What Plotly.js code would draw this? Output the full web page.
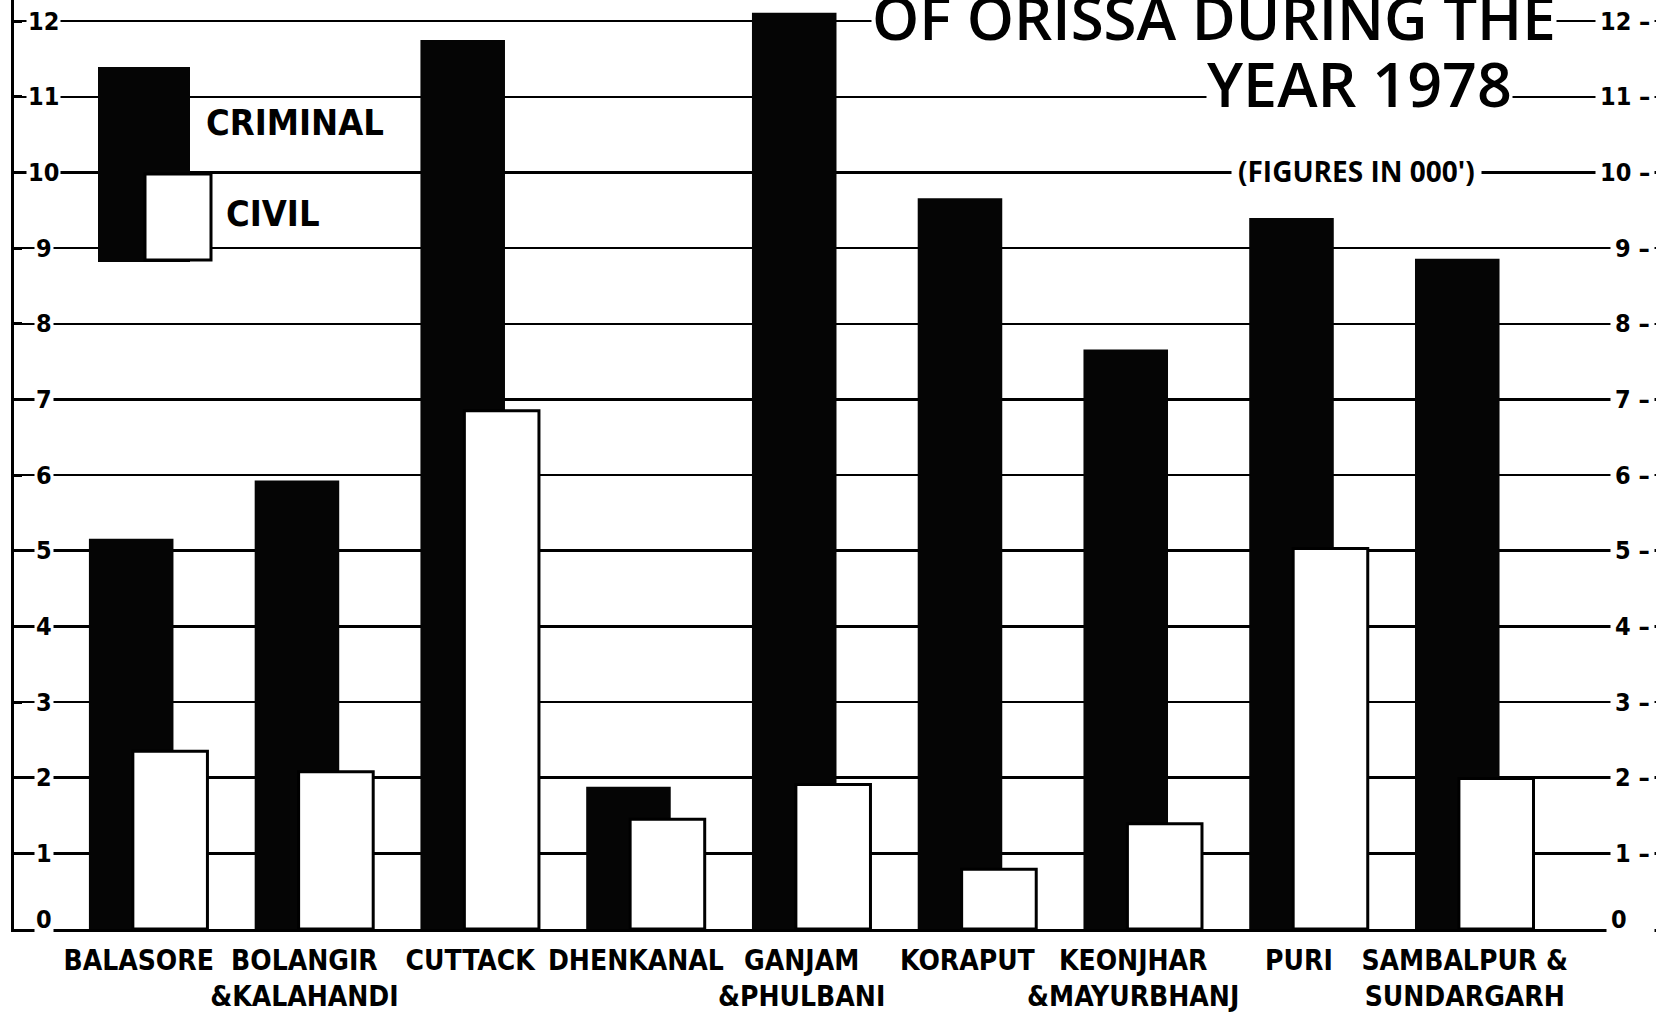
<!DOCTYPE html>
<html>
<head>
<meta charset="utf-8">
<script src="https://cdn.plot.ly/plotly-3.0.1.min.js"></script>
<style>html,body{margin:0;padding:0;background:#fff;}#chart{width:1656px;height:1020px;}</style>
</head>
<body>
<div id="chart"></div>
<script>
// Data (figures in 000')
const districts = ["BALASORE", "BOLANGIR<br>&KALAHANDI", "CUTTACK", "DHENKANAL", "GANJAM<br>&PHULBANI", "KORAPUT", "KEONJHAR<br>&MAYURBHANJ", "PURI", "SAMBALPUR &<br>SUNDARGARH"];
const criminal = [5.16, 5.93, 11.75, 1.88, 12.11, 9.66, 7.66, 9.40, 8.86];
const civil = [2.35, 2.08, 6.85, 1.45, 1.91, 0.79, 1.39, 5.03, 1.99];
const tickVals = [0,1,2,3,4,5,6,7,8,9,10,11,12];
const tickLabels = ["0","1","2","3","4","5","6","7","8","9","10","11","12"];
const titleLines = ["OF ORISSA DURING THE", "YEAR 1978", "(FIGURES IN 000')"];
const legendNames = ["CRIMINAL", "CIVIL"];

const handFont = "DejaVu Sans Condensed";
const idx = districts.map((d, i) => i);

const traces = [
  {
    type: "bar", name: legendNames[0], x: idx, y: criminal,
    offset: -0.30, width: 0.51,
    marker: {color: "#050505", line: {width: 0}},
    hoverinfo: "y"
  },
  {
    type: "bar", name: legendNames[1], x: idx, y: civil,
    offset: -0.035, width: 0.45,
    marker: {color: "#ffffff", line: {color: "#000000", width: 3}},
    hoverinfo: "y"
  }
];

const annotations = [];
// left and right axis labels
tickVals.forEach((v, i) => {
  annotations.push({
    xref: "paper", yref: "y", x: 0.018, y: v, yshift: v === 0 ? 10 : 0,
    text: tickLabels[i], showarrow: false, xanchor: "center", yanchor: "middle",
    font: {family: handFont, size: 25, color: "#000", weight: "bold"},
    bgcolor: "#ffffff", borderpad: 1
  });
  annotations.push({
    xref: "paper", yref: "y", x: 0.9995, y: v, yshift: v === 0 ? 10 : 0,
    text: tickLabels[i] + (v === 0 ? "   " : " –"), showarrow: false, xanchor: "right", yanchor: "middle",
    font: {family: handFont, size: 25, color: "#000", weight: "bold"},
    bgcolor: "#ffffff", borderpad: 4
  });
});
// title lines
annotations.push({
  xref: "paper", yref: "paper", x: (1359 - 14) / 1642, y: (929 - 84) / 929, yanchor: "middle", xanchor: "center",
  text: titleLines[1], showarrow: false,
  font: {family: "Open Sans", size: 61, color: "#000", weight: 600},
  bgcolor: "#ffffff", borderpad: 0
});
annotations.push({
  xref: "paper", yref: "paper", x: (1214 - 14) / 1642, y: 1.0, yanchor: "top", xanchor: "center",
  yshift: 25,
  text: titleLines[0], showarrow: false,
  font: {family: "Open Sans", size: 60, color: "#000", weight: 600},
  bgcolor: "#ffffff", borderpad: 0
});
annotations.push({
  xref: "paper", yref: "paper", x: (1356 - 14) / 1642, y: (929 - 171) / 929, yanchor: "middle", xanchor: "center",
  text: titleLines[2], showarrow: false,
  font: {family: "Open Sans", size: 28, color: "#000", weight: 700},
  bgcolor: "#ffffff", borderpad: 6
});
// legend text
annotations.push({
  xref: "paper", yref: "paper", x: (204 - 14) / 1642, y: (929 - 123) / 929, yanchor: "middle", xanchor: "left",
  text: legendNames[0], showarrow: false,
  font: {family: handFont, size: 36, color: "#000", weight: "bold"}
});
annotations.push({
  xref: "paper", yref: "paper", x: (224 - 14) / 1642, y: (929 - 214) / 929, yanchor: "middle", xanchor: "left",
  text: legendNames[1], showarrow: false,
  font: {family: handFont, size: 36, color: "#000", weight: "bold"}
});

const px = p => (p - 14) / 1642;
const py = p => (929 - p) / 929;
const shapes = [
  {type: "rect", xref: "paper", yref: "paper", x0: px(98), x1: px(190), y0: py(262), y1: py(67),
   fillcolor: "#050505", line: {width: 0}, layer: "above"},
  {type: "rect", xref: "paper", yref: "paper", x0: px(145), x1: px(211), y0: py(260), y1: py(174),
   fillcolor: "#ffffff", line: {color: "#000", width: 3}, layer: "above"}
];

const layout = {
  width: 1656, height: 1020,
  margin: {l: 14, r: 0, t: 0, b: 91},
  paper_bgcolor: "#ffffff", plot_bgcolor: "#ffffff",
  showlegend: false,
  barmode: "overlay",
  xaxis: {
    range: [-0.752, 9.154],
    tickvals: idx, ticktext: districts, tickangle: 0,
    ticks: "", showgrid: false, zeroline: false,
    showline: true, linecolor: "#000", linewidth: 3,
    tickfont: {family: handFont, size: 28, color: "#000", weight: "bold"},
    ticklabelstandoff: 4
  },
  yaxis: {
    range: [0, 12.28],
    tickvals: tickVals, showticklabels: false,
    ticks: "inside", ticklen: 8, tickwidth: 3, tickcolor: "#000",
    showline: true, linecolor: "#000", linewidth: 3,
    showgrid: true, gridcolor: "#000", gridwidth: 2.5,
    zeroline: false
  },
  annotations: annotations,
  shapes: shapes
};

Plotly.newPlot("chart", traces, layout, {displayModeBar: false, staticPlot: true});
</script>
</body>
</html>
